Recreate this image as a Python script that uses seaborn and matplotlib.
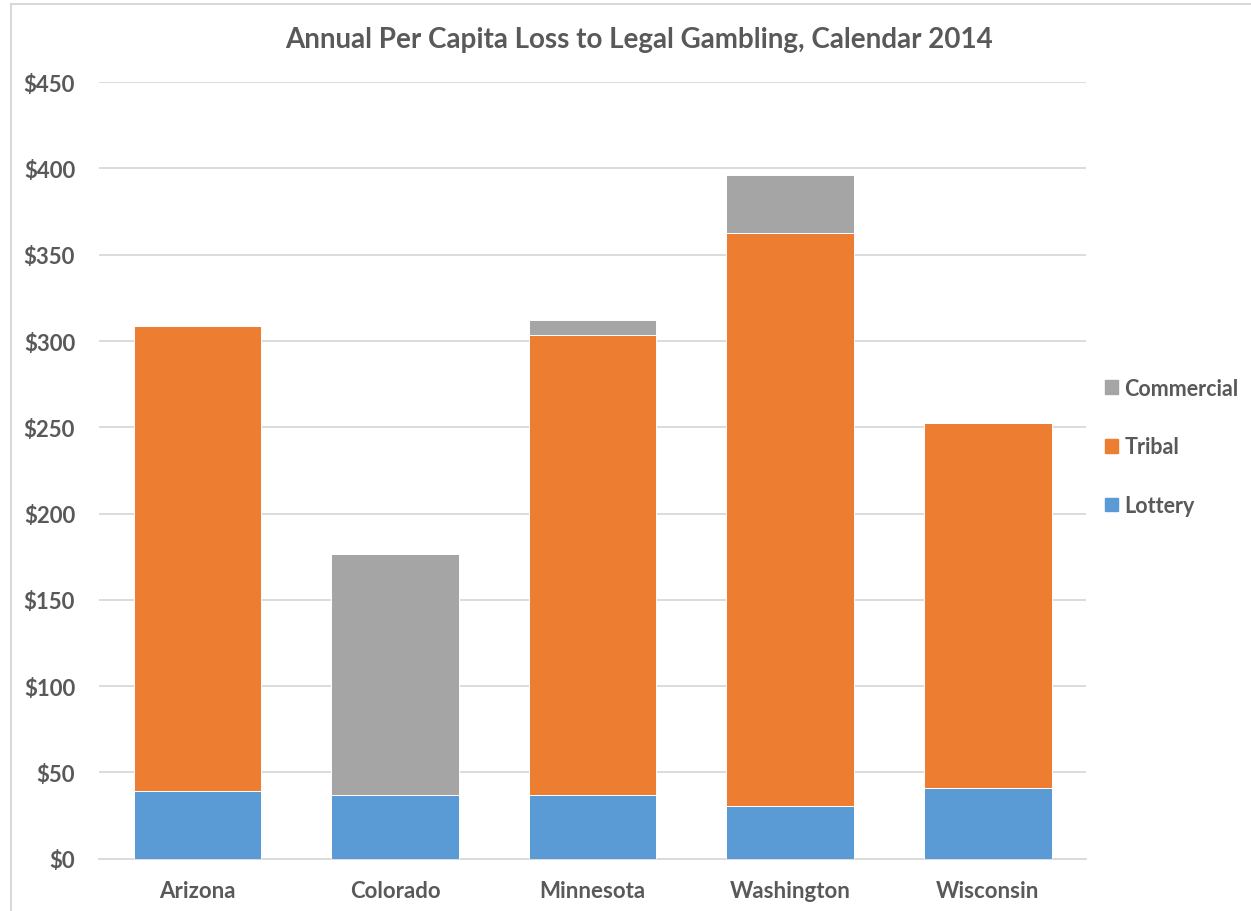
import pandas as pd
import matplotlib.pyplot as plt
import matplotlib.patches as mpatches
import seaborn as sns

# data
states = ["Arizona", "Colorado", "Minnesota", "Washington", "Wisconsin"]
lottery = [39.1, 37.1, 37.1, 30.7, 41.0]
tribal = [269.8, 0.0, 266.4, 332.1, 211.7]
commercial = [0.0, 139.3, 8.5, 33.4, 0.0]

colors = {"Lottery": "#5B9BD5", "Tribal": "#ED7D31", "Commercial": "#A5A5A5"}
text_color = "#595959"
grid_color = "#D9D9D9"

sns.set_style("white")
plt.rcParams['font.family'] = ['Lato', 'DejaVu Sans']

df = pd.DataFrame({"state": states, "Lottery": lottery,
                   "Tribal": tribal, "Commercial": commercial})
df["base_tribal"] = df["Lottery"]
df["base_comm"] = df["Lottery"] + df["Tribal"]

fig = plt.figure(figsize=(12.51, 9.12), dpi=100)
ax = fig.add_axes([0.0789, 0.0573, 0.7896, 0.8515])

bar_w = 0.646
sns.barplot(data=df, x="state", y="Lottery", order=states, color=colors["Lottery"],
            saturation=1, width=bar_w, edgecolor="white", linewidth=0.7, ax=ax, zorder=3)
sns.barplot(data=df, x="state", y="Tribal", order=states, color=colors["Tribal"],
            saturation=1, bottom=df["base_tribal"], width=bar_w, edgecolor="white",
            linewidth=0.7, ax=ax, zorder=3)
sns.barplot(data=df, x="state", y="Commercial", order=states, color=colors["Commercial"],
            saturation=1, bottom=df["base_comm"], width=bar_w, edgecolor="white",
            linewidth=0.7, ax=ax, zorder=3)

ax.set_xlim(-0.5, 4.5)
ax.set_ylim(0, 450)
ax.set_yticks(range(0, 451, 50))
ax.set_yticklabels([f"${v}" for v in range(0, 451, 50)])
ax.yaxis.grid(True, color=grid_color, linewidth=1.3, zorder=0)
ax.set_axisbelow(True)
for side in ["top", "right", "left"]:
    ax.spines[side].set_visible(False)
ax.spines["bottom"].set_color(grid_color)
ax.spines["bottom"].set_linewidth(1.3)
ax.tick_params(axis="both", length=0, colors=text_color, labelsize=16)
ax.tick_params(axis="y", pad=17)
ax.tick_params(axis="x", pad=15)
for lab in ax.get_xticklabels() + ax.get_yticklabels():
    lab.set_fontweight("bold")
ax.set_xlabel("")
ax.set_ylabel("")

fig.text(0.511, 0.956, "Annual Per Capita Loss to Legal Gambling, Calendar 2014",
         ha="center", va="center", fontsize=20, fontweight="bold", color=text_color)

handles = [mpatches.Patch(color=colors[k], label=k) for k in ["Commercial", "Tribal", "Lottery"]]
leg = fig.legend(handles=handles, loc="center left", bbox_to_anchor=(0.868, 0.509),
                 frameon=False, handlelength=0.6, handleheight=0.6, handletextpad=0.3,
                 labelspacing=1.75, prop={"size": 15.5, "weight": "bold"})
for t in leg.get_texts():
    t.set_color(text_color)

# light frame of the chart area
fig.patches.append(mpatches.Rectangle((10.5 / 1251, -0.1), 1.2, 1 - 4.5 / 912 + 0.1,
                                      transform=fig.transFigure, fill=False,
                                      edgecolor="#D9D9D9", linewidth=1.5))

fig.savefig("out.png", dpi=100)
